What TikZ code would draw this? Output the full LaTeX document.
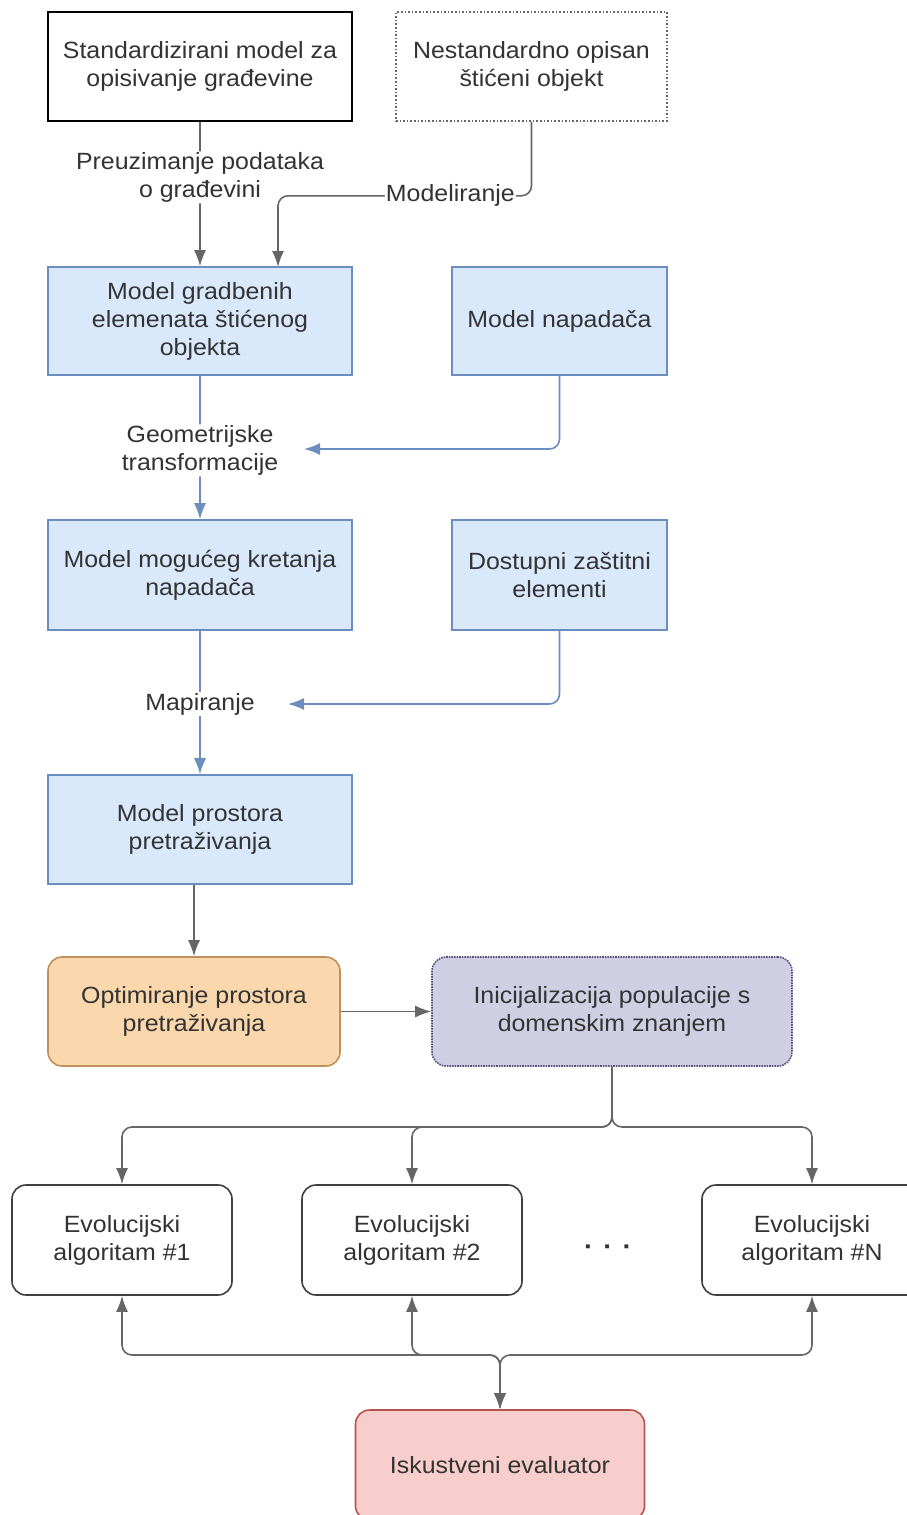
\documentclass[tikz,border=0pt]{standalone}
\usepackage{fontspec}
\setmainfont{Liberation Sans}[FakeStretch=1.06]
\usetikzlibrary{arrows.meta,positioning}
\definecolor{txt}{HTML}{333333}
\definecolor{garr}{HTML}{666666}
\definecolor{barr}{HTML}{6C8EBF}
\definecolor{bfill}{HTML}{DAE8FC}
\definecolor{ofill}{HTML}{FAD7AC}
\definecolor{odraw}{HTML}{C0905A}
\definecolor{pfill}{HTML}{D0CEE2}
\definecolor{pdraw}{HTML}{56517E}
\definecolor{rfill}{HTML}{F8CECC}
\definecolor{rdraw}{HTML}{B85450}
\definecolor{edraw}{HTML}{404040}
\tikzset{
  base/.style={align=center, text=txt, font=\fontsize{23.5}{28}\selectfont, line width=1.6pt, inner sep=2pt},
  plainbox/.style={base, draw=black, fill=white},
  dotbox/.style={base, draw=garr, dotted, fill=white},
  bluebox/.style={base, draw=barr, fill=bfill},
  orangebox/.style={base, draw=odraw, fill=ofill, rounded corners=14pt},
  purplebox/.style={base, draw=pdraw, densely dotted, fill=pfill, rounded corners=14pt},
  redbox/.style={base, draw=rdraw, fill=rfill, rounded corners=14pt},
  evobox/.style={base, draw=edraw, fill=white, rounded corners=14pt},
  lbl/.style={base, fill=white, inner sep=1pt, line width=0pt},
  tip/.style={Latex[length=16pt,width=12pt]},
  garrow/.style={draw=garr, line width=1.6pt, -{Latex[length=16pt,width=12pt]}, rounded corners=10pt},
  barrow/.style={draw=barr, line width=1.6pt, -{Latex[length=16pt,width=12pt]}, rounded corners=10pt},
  darrow/.style={draw=garr, line width=1.6pt, {Latex[length=16pt,width=12pt]}-{Latex[length=16pt,width=12pt]}, rounded corners=10pt},
}
\begin{document}
\begin{tikzpicture}[x=1pt,y=-1pt]
\path[use as bounding box] (0,0) rectangle (907,1515);
\clip (0,0) rectangle (907,1515);
\node[plainbox, minimum width=304pt, minimum height=109pt] (b1) at (200,66.5) {Standardizirani model za\\opisivanje građevine};
\node[dotbox, minimum width=271pt, minimum height=109pt] (b2) at (531.5,66.5) {Nestandardno opisan\\štićeni objekt};
\node[bluebox, minimum width=304pt, minimum height=108pt] (b3) at (200,321) {Model gradbenih\\elemenata štićenog\\objekta};
\node[bluebox, minimum width=215pt, minimum height=108pt] (b4) at (559.5,321) {Model napadača};
\node[bluebox, minimum width=304pt, minimum height=110pt] (b5) at (200,575) {Model mogućeg kretanja\\napadača};
\node[bluebox, minimum width=215pt, minimum height=110pt] (b6) at (559.5,575) {Dostupni zaštitni\\elementi};
\node[bluebox, minimum width=304pt, minimum height=109pt] (b7) at (200,829.5) {Model prostora\\pretraživanja};
\node[orangebox, minimum width=292pt, minimum height=109pt] (b8) at (194,1011.5) {Optimiranje prostora\\pretraživanja};
\node[purplebox, minimum width=360pt, minimum height=109pt] (b9) at (612,1011.5) {Inicijalizacija populacije s\\domenskim znanjem};
\node[evobox, minimum width=220pt, minimum height=110pt] (e1) at (122,1240) {Evolucijski\\algoritam \#1};
\node[evobox, minimum width=220pt, minimum height=110pt] (e2) at (412,1240) {Evolucijski\\algoritam \#2};
\node[evobox, minimum width=220pt, minimum height=110pt] (e3) at (812,1240) {Evolucijski\\algoritam \#N};
\node[base, font=\fontsize{26}{28}\selectfont\bfseries] (dots) at (608,1250) {·\hspace{10pt}·\hspace{10pt}·};
\node[redbox, minimum width=289pt, minimum height=110pt] (ev) at (500,1465) {Iskustveni evaluator};

\coordinate (m1) at (278,267);
\coordinate (g1) at (304,449);
\coordinate (p1) at (288,704);
\coordinate (j1) at (612,1127);
\coordinate (j2) at (500,1355);

\draw[garrow] (b1.south) -- node[lbl, pos=0.385] {Preuzimanje podataka\\o građevini} (b3.north);
\draw[garrow] (b2.south) -- ++(0,74) -| node[lbl, pos=0.16] {Modeliranje} (m1);
\draw[barrow] (b3.south) -- node[lbl, pos=0.52] {Geometrijske\\transformacije} (b5.north);
\draw[barrow] (b4.south) |- (g1);
\draw[barrow] (b5.south) -- node[lbl, pos=0.51] {Mapiranje} (b7.north);
\draw[barrow] (b6.south) |- (p1);
\draw[garrow] (b8.north |- b7.south) -- (b8.north);
\draw[garrow] (b8.east) -- (b9.west);
\draw[garrow] (b9.south) -- (j1) -| (e1.north);
\draw[garrow] (b9.south) -- (j1) -| (e2.north);
\draw[garrow] (b9.south) -- (j1) -| (e3.north);
\draw[darrow] (ev.north) -- (j2) -| (e1.south);
\draw[darrow] (ev.north) -- (j2) -| (e2.south);
\draw[darrow] (ev.north) -- (j2) -| (e3.south);
\end{tikzpicture}
\end{document}
